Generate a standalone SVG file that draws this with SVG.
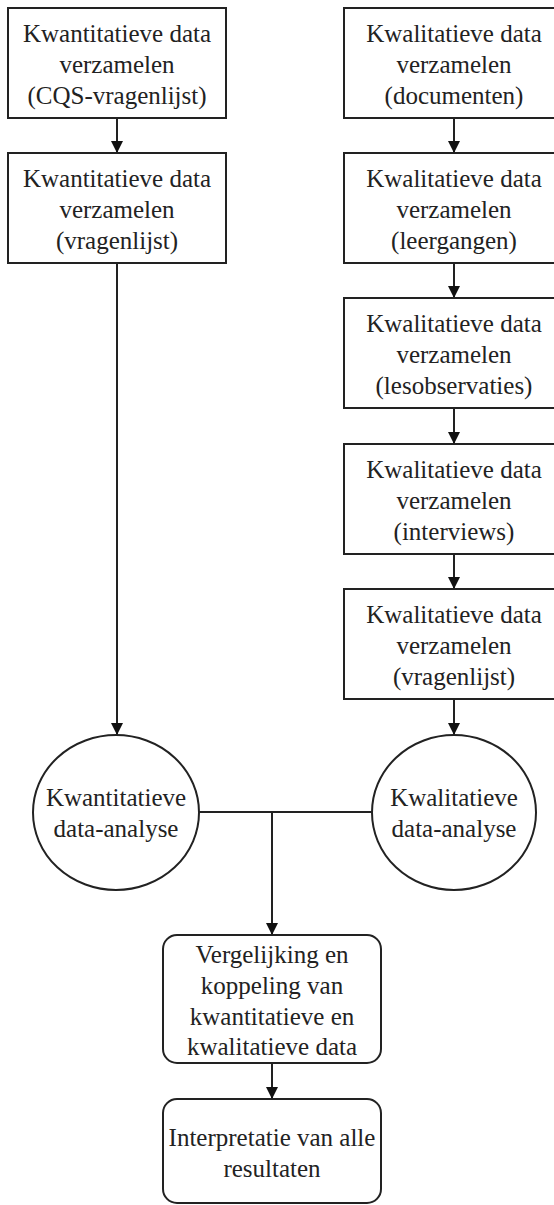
<svg xmlns="http://www.w3.org/2000/svg" width="554" height="1205" viewBox="0 0 554 1205">
<style>
.box{fill:#fff;stroke:#222;stroke-width:2}
.t{font-family:"Liberation Serif","Times New Roman",serif;font-size:25px;fill:#222;text-anchor:middle}
.c{fill:none;stroke:#222;stroke-width:2}
</style>
<defs>
<marker id="ah" viewBox="0 0 12 12" refX="12" refY="6" markerWidth="12" markerHeight="12" markerUnits="userSpaceOnUse" orient="auto">
<path d="M0,0 L12,6 L0,12 Z" fill="#111"/>
</marker>
</defs>
<g id="connectors">
<line class="c" x1="117" y1="118" x2="117" y2="153" marker-end="url(#ah)"/>
<line class="c" x1="117" y1="263" x2="117" y2="735" marker-end="url(#ah)"/>
<line class="c" x1="454" y1="118" x2="454" y2="153" marker-end="url(#ah)"/>
<line class="c" x1="454" y1="263" x2="454" y2="298" marker-end="url(#ah)"/>
<line class="c" x1="454" y1="408" x2="454" y2="444" marker-end="url(#ah)"/>
<line class="c" x1="454" y1="554" x2="454" y2="589" marker-end="url(#ah)"/>
<line class="c" x1="454" y1="699" x2="454" y2="735" marker-end="url(#ah)"/>
<line class="c" x1="199" y1="812" x2="372" y2="812"/>
<line class="c" x1="272" y1="812" x2="272" y2="935" marker-end="url(#ah)"/>
<line class="c" x1="272" y1="1063" x2="272" y2="1099" marker-end="url(#ah)"/>
</g>
<g id="kwant1">
<rect class="box" x="8" y="8" width="218" height="110"/>
<text class="t" x="117" y="42">Kwantitatieve data</text>
<text class="t" x="117" y="73">verzamelen</text>
<text class="t" x="117" y="104">(CQS-vragenlijst)</text>
</g>
<g id="kwant2">
<rect class="box" x="8" y="153" width="218" height="110"/>
<text class="t" x="117" y="187">Kwantitatieve data</text>
<text class="t" x="117" y="218">verzamelen</text>
<text class="t" x="117" y="249">(vragenlijst)</text>
</g>
<g id="kwal1">
<rect class="box" x="344" y="8" width="220" height="110"/>
<text class="t" x="454" y="42">Kwalitatieve data</text>
<text class="t" x="454" y="73">verzamelen</text>
<text class="t" x="454" y="104">(documenten)</text>
</g>
<g id="kwal2">
<rect class="box" x="344" y="153" width="220" height="110"/>
<text class="t" x="454" y="187">Kwalitatieve data</text>
<text class="t" x="454" y="218">verzamelen</text>
<text class="t" x="454" y="249">(leergangen)</text>
</g>
<g id="kwal3">
<rect class="box" x="344" y="298" width="220" height="110"/>
<text class="t" x="454" y="332">Kwalitatieve data</text>
<text class="t" x="454" y="363">verzamelen</text>
<text class="t" x="454" y="394">(lesobservaties)</text>
</g>
<g id="kwal4">
<rect class="box" x="344" y="444" width="220" height="110"/>
<text class="t" x="454" y="478">Kwalitatieve data</text>
<text class="t" x="454" y="509">verzamelen</text>
<text class="t" x="454" y="540">(interviews)</text>
</g>
<g id="kwal5">
<rect class="box" x="344" y="589" width="220" height="110"/>
<text class="t" x="454" y="623">Kwalitatieve data</text>
<text class="t" x="454" y="654">verzamelen</text>
<text class="t" x="454" y="685">(vragenlijst)</text>
</g>
<g id="kwant-analyse">
<ellipse class="box" cx="116" cy="812.5" rx="83" ry="77.5"/>
<text class="t" x="116" y="806">Kwantitatieve</text>
<text class="t" x="116" y="837">data-analyse</text>
</g>
<g id="kwal-analyse">
<ellipse class="box" cx="454" cy="812.5" rx="82" ry="77.5"/>
<text class="t" x="454" y="806">Kwalitatieve</text>
<text class="t" x="454" y="837">data-analyse</text>
</g>
<g id="vergelijking">
<rect class="box" x="163" y="935" width="218" height="128" rx="14"/>
<text class="t" x="272" y="963">Vergelijking en</text>
<text class="t" x="272" y="994">koppeling van</text>
<text class="t" x="272" y="1025">kwantitatieve en</text>
<text class="t" x="272" y="1055">kwalitatieve data</text>
</g>
<g id="interpretatie">
<rect class="box" x="163" y="1099" width="218" height="104" rx="14"/>
<text class="t" x="272" y="1146">Interpretatie van alle</text>
<text class="t" x="272" y="1177">resultaten</text>
</g>
</svg>
